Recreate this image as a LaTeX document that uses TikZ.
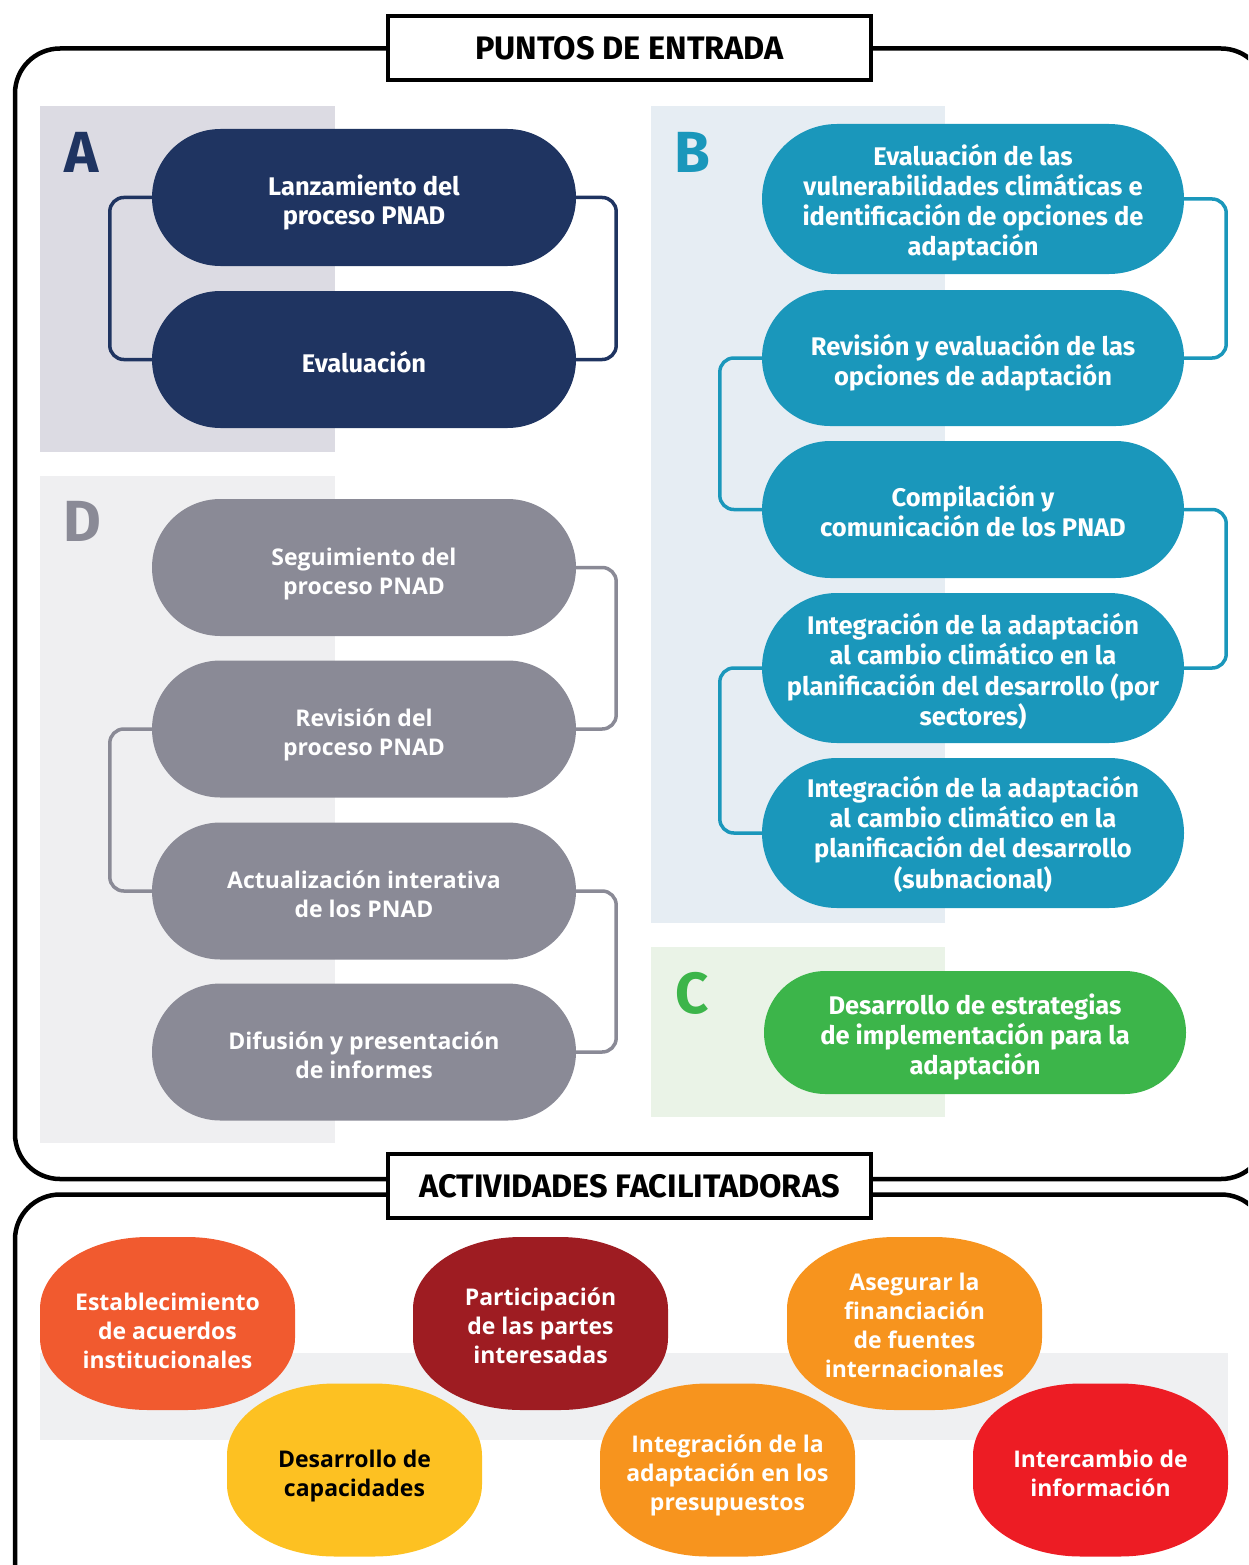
\documentclass[tikz,border=0pt]{standalone}
\usepackage{fontspec}
\setmainfont{Fira Sans}
\newfontfamily\widefont{Open Sans}
\usepackage{xcolor}
\usetikzlibrary{backgrounds}
\definecolor{navy}{HTML}{1F3461}
\definecolor{teal}{HTML}{1A97BB}
\definecolor{leaf}{HTML}{3CB54A}
\definecolor{slate}{HTML}{8A8A96}
\definecolor{bandA}{HTML}{DCDBE3}
\definecolor{bandB}{HTML}{E6EDF3}
\definecolor{bandC}{HTML}{EAF3E7}
\definecolor{bandD}{HTML}{EFEFF1}
\definecolor{bandE}{HTML}{EFF0F2}
\definecolor{actorange}{HTML}{F15A2F}
\definecolor{actmaroon}{HTML}{9E1C22}
\definecolor{actamber}{HTML}{F7941E}
\definecolor{actyellow}{HTML}{FDC122}
\definecolor{actred}{HTML}{ED1C24}
% text block, pushed down a little inside its node
\newcommand\celltext[2][12pt]{\raisebox{0pt}[\dimexpr\height+#1\relax][\depth]{\begin{tabular}{@{}c@{}}#2\end{tabular}}}

\begin{document}
\begin{tikzpicture}[x=1pt,y=-1pt,
    frame/.style={line width=4.5pt,rounded corners=45pt},
    title box/.style={draw,line width=4.5pt,fill=white,minimum width=483pt,minimum height=64pt,inner sep=0pt,font=\fontsize{32.5}{36}\selectfont\bfseries},
    letter/.style={inner sep=0pt,font=\fontsize{58}{58}\selectfont\bfseries},
    pill/.style={rectangle,rounded corners=68.5pt,minimum width=424pt,minimum height=137pt,inner sep=0pt,text=white,font=\fontsize{25.5}{29}\selectfont\bfseries},
    tall pill/.style={pill,fill=teal,minimum width=422pt,minimum height=150pt,rounded corners=75pt},
    grey pill/.style={pill,fill=slate,font=\widefont\fontsize{23}{29}\selectfont\bfseries},
    link/.style={line width=3.5pt,rounded corners=14pt},
    act/.style={rectangle,minimum width=255pt,minimum height=173pt,inner sep=0pt,text=white,font=\widefont\fontsize{23}{29}\selectfont\bfseries}]
  \useasboundingbox (0,0) rectangle (1248,1565);
  \clip (0,0) rectangle (1248,1565);

  % frames
  \draw[frame] (15,48.5) rectangle (1266,1179);
  \draw[frame] (15,1194.5) rectangle (1266,1610);
  \node[title box] (top) at (629.5,48) {PUNTOS DE ENTRADA};
  \node[title box] (bottom) at (629.5,1186) {ACTIVIDADES FACILITADORAS};

  % bands
  \begin{scope}[on background layer]
    \fill[bandA] (40,106) rectangle (335,452);
    \fill[bandD] (40,476) rectangle (335,1143);
    \fill[bandB] (651,106) rectangle (945,923);
    \fill[bandC] (651,947) rectangle (945,1117);
    \fill[bandE] (40,1353) rectangle (1228,1440);
  \end{scope}

  \node[letter,text=navy] (la) at (82,152) {A};
  \node[letter,text=teal] (lb) at (692,152) {B};
  \node[letter,text=leaf] (lc) at (692,993) {C};
  \node[letter,text=slate] (ld) at (82,521) {D};

  % A
  \node[pill,fill=navy] (a1) at (364,197.5) {\celltext[13pt]{Lanzamiento del\\proceso PNAD}};
  \node[pill,fill=navy] (a2) at (364,359.5) {\celltext[13pt]{Evaluación}};
  \draw[link,navy] (a1.west) -- ++(-42,0) |- (a2.west);
  \draw[link,navy] (a1.east) -- ++(40,0) |- (a2.east);

  % B
  \node[tall pill] (b1) at (973,199)
    {\celltext[10pt]{Evaluación de las\\vulnerabilidades climáticas e\\identificación de opciones de\\adaptación}};
  \node[pill,fill=teal,minimum width=422pt,minimum height=136pt,rounded corners=68pt] (b2) at (973,358)
    {\celltext{Revisión y evaluación de las\\opciones de adaptación}};
  \node[pill,fill=teal,minimum width=422pt] (b3) at (973,509.5)
    {\celltext{Compilación y\\comunicación de los PNAD}};
  \node[tall pill] (b4) at (973,668)
    {\celltext{Integración de la adaptación\\al cambio climático en la\\planificación del desarrollo (por\\sectores)}};
  \node[tall pill] (b5) at (973,833)
    {\celltext[7pt]{Integración de la adaptación\\al cambio climático en la\\planificación del desarrollo\\(subnacional)}};
  \draw[link,teal] (b1.east) -- ++(42,0) |- (b2.east);
  \draw[link,teal] (b2.west) -- ++(-42,0) |- (b3.west);
  \draw[link,teal] (b3.east) -- ++(42,0) |- (b4.east);
  \draw[link,teal] (b4.west) -- ++(-42,0) |- (b5.west);

  % C
  \node[pill,fill=leaf,minimum width=422pt,minimum height=123pt,rounded corners=61.5pt] (c1) at (975,1032.5)
    {\celltext{Desarrollo de estrategias\\de implementación para la\\adaptación}};

  % D
  \node[grey pill] (d1) at (364,567.5) {\celltext[13pt]{Seguimiento del\\proceso PNAD}};
  \node[grey pill] (d2) at (364,729) {\celltext[13pt]{Revisión del\\proceso PNAD}};
  \node[grey pill] (d3) at (364,891) {\celltext[13pt]{Actualización interativa\\de los PNAD}};
  \node[grey pill] (d4) at (364,1052) {\celltext[13pt]{Difusión y presentación\\de informes}};
  \draw[link,slate] (d1.east) -- ++(40,0) |- (d2.east);
  \draw[link,slate] (d2.west) -- ++(-42,0) |- (d3.west);
  \draw[link,slate] (d3.east) -- ++(40,0) |- (d4.east);

  % actividades
  \node[act] (e1) at (167.5,1323.5) {\celltext[21pt]{Establecimiento\\de acuerdos\\institucionales}};
  \node[act] (e2) at (540.5,1323.5) {\celltext[10pt]{Participación\\de las partes\\interesadas}};
  \node[act] (e3) at (914.5,1323.5) {\celltext[10pt]{Asegurar la\\financiación\\de fuentes\\internacionales}};
  \node[act,text=black] (e4) at (354.5,1470) {\celltext[13pt]{Desarrollo de\\capacidades}};
  \node[act] (e5) at (727.5,1470) {\celltext{Integración de la\\adaptación en los\\presupuestos}};
  \node[act] (e6) at (1100.5,1470) {\celltext[13pt]{Intercambio de\\información}};
  \begin{scope}[on background layer]
    \foreach \n/\c in {e1/actorange,e2/actmaroon,e3/actamber,e4/actyellow,e5/actamber,e6/actred}
      \fill[\c,shift={(\n.center)},y=1pt] (-19.5,86.5) -- (19.5,86.5)
        arc[start angle=90,end angle=0,x radius=108,y radius=72] -- (127.5,-14.5)
        arc[start angle=0,end angle=-90,x radius=108,y radius=72] -- (-19.5,-86.5)
        arc[start angle=-90,end angle=-180,x radius=108,y radius=72] -- (-127.5,14.5)
        arc[start angle=180,end angle=90,x radius=108,y radius=72] -- cycle;
  \end{scope}
\end{tikzpicture}
\end{document}
